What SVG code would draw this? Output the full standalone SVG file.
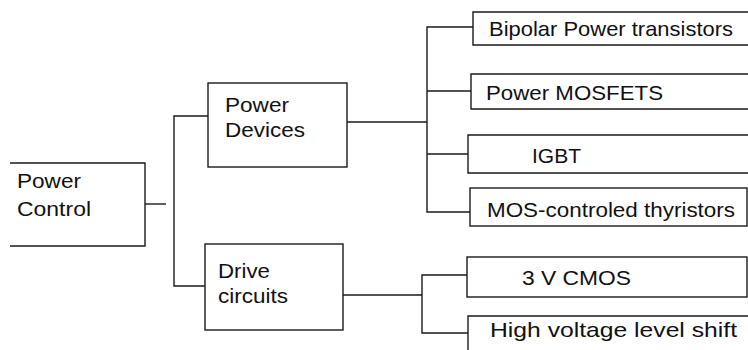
<svg xmlns="http://www.w3.org/2000/svg" width="748" height="350" viewBox="0 0 748 350">
<style>
.b{fill:none;stroke:#1a1a1a;stroke-width:1.4}
.c{fill:none;stroke:#1a1a1a;stroke-width:1.4}
text{font-family:"Liberation Sans",Arial,sans-serif;font-size:21px;fill:#111}
</style>
<rect width="748" height="350" fill="#fff"/>
<g id="connectors">
<path class="c" d="M145 204H166"/>
<path class="c" d="M208 116H174V286H205"/>
<path class="c" d="M347 122H427"/>
<path class="c" d="M473 27H427V212H470M427 91H471M427 154H468"/>
<path class="c" d="M343 295H422"/>
<path class="c" d="M467 275H422V333H468"/>
</g>
<g id="power-control">
<path class="b" d="M10 163H145V246H10"/>
<text x="17" y="188" textLength="64" lengthAdjust="spacingAndGlyphs">Power</text>
<text x="17" y="216" textLength="74" lengthAdjust="spacingAndGlyphs">Control</text>
</g>
<g id="power-devices">
<rect class="b" x="208" y="83" width="139" height="84"/>
<text x="225" y="112" textLength="64" lengthAdjust="spacingAndGlyphs">Power</text>
<text x="225" y="137" textLength="80" lengthAdjust="spacingAndGlyphs">Devices</text>
</g>
<g id="drive-circuits">
<rect class="b" x="205" y="244" width="138" height="86"/>
<text x="218" y="278" textLength="52" lengthAdjust="spacingAndGlyphs">Drive</text>
<text x="218" y="303" textLength="70" lengthAdjust="spacingAndGlyphs">circuits</text>
</g>
<g id="bipolar">
<path class="b" d="M750 12H473V45H750"/>
<text x="489" y="36" textLength="244" lengthAdjust="spacingAndGlyphs">Bipolar Power transistors</text>
</g>
<g id="mosfets">
<path class="b" d="M750 74H471V109H750"/>
<text x="486" y="100" textLength="177" lengthAdjust="spacingAndGlyphs">Power MOSFETS</text>
</g>
<g id="igbt">
<path class="b" d="M750 135H468V173H750"/>
<text x="532" y="163" textLength="49" lengthAdjust="spacingAndGlyphs">IGBT</text>
</g>
<g id="mos-thyristors">
<rect class="b" x="470" y="188" width="277" height="38"/>
<text x="487" y="217" textLength="248" lengthAdjust="spacingAndGlyphs">MOS-controled thyristors</text>
</g>
<g id="cmos">
<rect class="b" x="467" y="257" width="280" height="40"/>
<text x="522" y="285" textLength="109" lengthAdjust="spacingAndGlyphs">3 V CMOS</text>
</g>
<g id="level-shift">
<path class="b" d="M468 352V316H750"/>
<text x="490" y="337" textLength="247" lengthAdjust="spacingAndGlyphs">High voltage level shift</text>
</g>
</svg>
